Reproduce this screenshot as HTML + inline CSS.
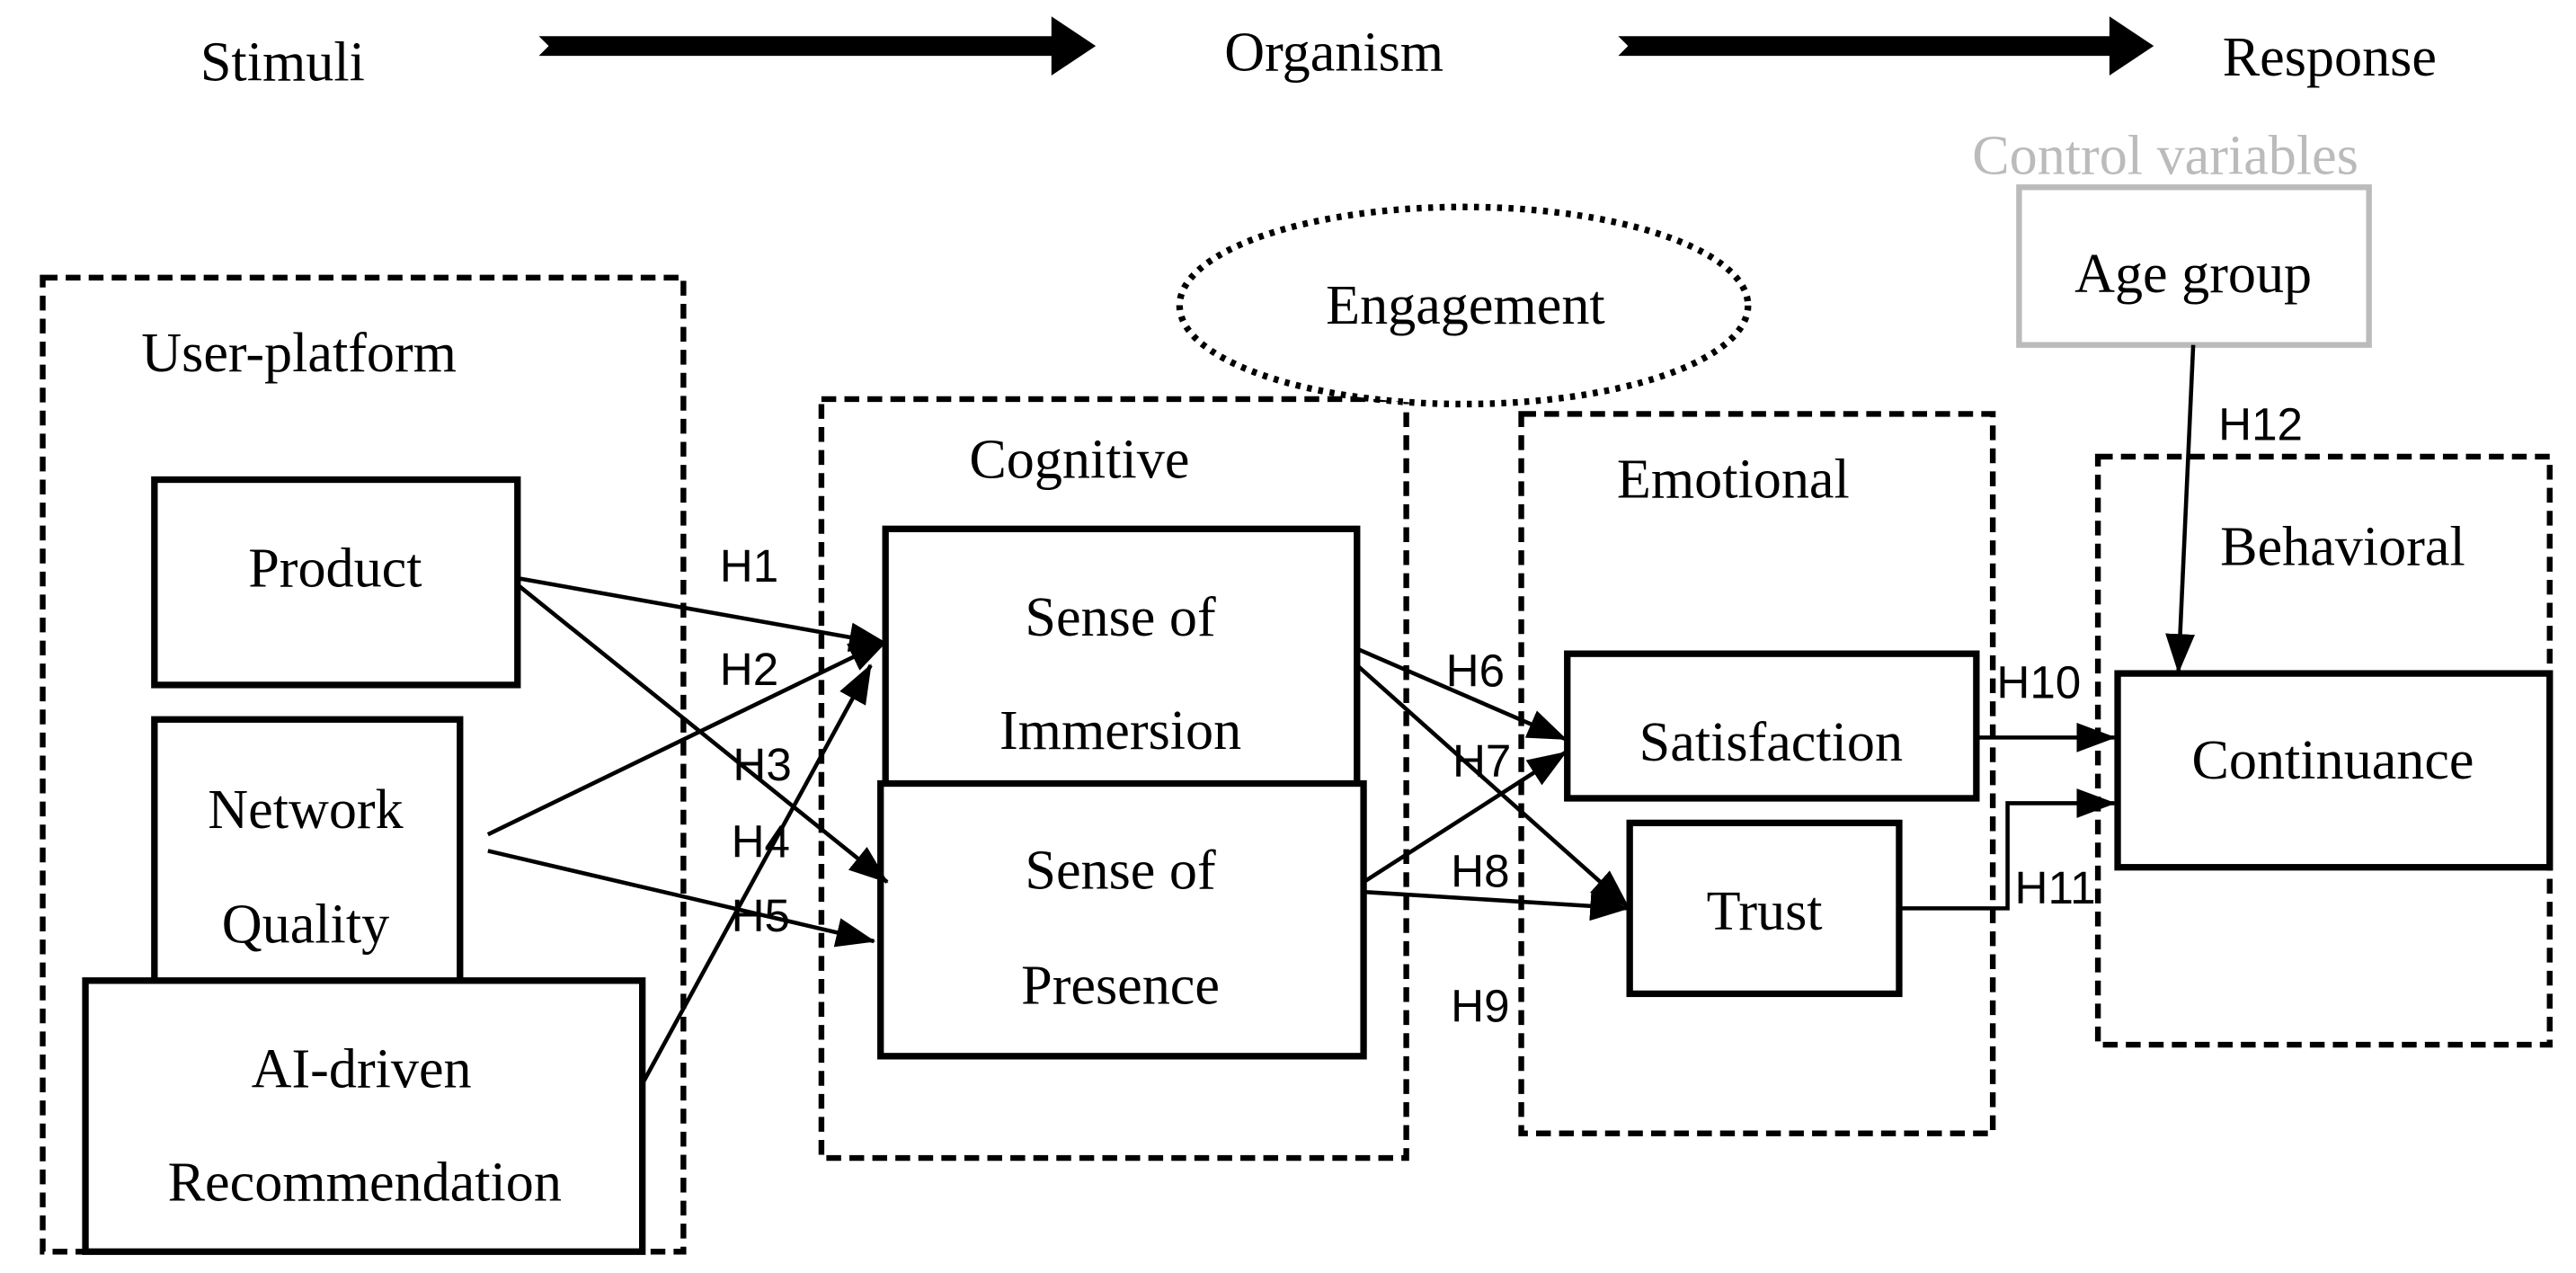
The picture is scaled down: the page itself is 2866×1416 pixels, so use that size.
<!DOCTYPE html>
<html><head><meta charset="utf-8"><style>html,body{margin:0;padding:0;background:#fff;}svg{display:block}</style></head>
<body>
<svg width="2866" height="1416" viewBox="0 0 1568 775" preserveAspectRatio="none" xmlns="http://www.w3.org/2000/svg">
<defs>
<marker id="ah" viewBox="0 0 24 18" refX="23" refY="9" markerWidth="24" markerHeight="18" orient="auto" markerUnits="userSpaceOnUse">
<path d="M0,0 L24,9 L0,18 Z" fill="#000"/></marker>
</defs>
<g font-family="Liberation Serif, serif" font-size="34" text-anchor="middle" fill="#000">
<text x="172" y="49">Stimuli</text>
<text x="812" y="43">Organism</text>
<text x="1418" y="46">Response</text>
<text x="1318" y="106" fill="#bbb">Control variables</text>
</g>
<path d="M328,22 L640,22 L640,10 L667,28 L640,46 L640,34 L328,34 L334,28 Z" fill="#000"/>
<path d="M985,22 L1284,22 L1284,10 L1311,28 L1284,46 L1284,34 L985,34 L991,28 Z" fill="#000"/>
<g fill="none" stroke="#000">
<rect x="1229" y="114" width="213" height="96" stroke="#bbb" stroke-width="3.5"/>
<g stroke-width="3.5" stroke-dasharray="9,5">
<rect x="26" y="169" width="390" height="593"/>
<rect x="500" y="243" width="356" height="462"/>
<rect x="926" y="252" width="287" height="438"/>
<rect x="1277" y="278" width="275" height="358"/>
</g>
<ellipse cx="891" cy="186" rx="173" ry="60" stroke-width="4" stroke-dasharray="3,4" fill="#fff"/>
<g stroke-width="4">
<rect x="94" y="292" width="221" height="125"/>
<rect x="94" y="438" width="186" height="162"/>
<rect x="52" y="597" width="339" height="165" fill="#fff"/>
<rect x="539" y="322" width="287" height="156"/>
<rect x="536" y="477" width="294" height="166" fill="#fff"/>
<rect x="954" y="398" width="249" height="88"/>
<rect x="992" y="501" width="164" height="104"/>
<rect x="1289" y="410" width="263" height="118"/>
</g>
<g stroke-width="2.5" marker-end="url(#ah)">
<line x1="315" y1="352" x2="540" y2="392"/>
<line x1="315" y1="356" x2="540" y2="537"/>
<line x1="297" y1="508" x2="540" y2="390"/>
<line x1="297" y1="518" x2="532" y2="573"/>
<line x1="392" y1="658" x2="530" y2="405"/>
<line x1="826" y1="395" x2="953" y2="450"/>
<line x1="826" y1="405" x2="991" y2="552"/>
<line x1="830" y1="537" x2="953" y2="458"/>
<line x1="830" y1="543" x2="991" y2="553"/>
<line x1="1203" y1="449" x2="1287" y2="449"/>
<polyline points="1156,553 1222,553 1222,489 1287,489"/>
<line x1="1335" y1="210" x2="1326" y2="409"/>
</g>
</g>
<g font-family="Liberation Serif, serif" font-size="34" text-anchor="middle" fill="#000">
<text x="892" y="197">Engagement</text>
<text x="182" y="226">User-platform</text>
<text x="204" y="357">Product</text>
<text x="186" y="504">Network</text>
<text x="186" y="574">Quality</text>
<text x="220" y="662">AI-driven</text>
<text x="222" y="731">Recommendation</text>
<text x="657" y="291">Cognitive</text>
<text x="682" y="387">Sense of</text>
<text x="682" y="456">Immersion</text>
<text x="682" y="541">Sense of</text>
<text x="682" y="611">Presence</text>
<text x="1055" y="303">Emotional</text>
<text x="1078" y="463">Satisfaction</text>
<text x="1074" y="566">Trust</text>
<text x="1426" y="344">Behavioral</text>
<text x="1420" y="474">Continuance</text>
<text x="1335" y="178">Age group</text>
</g>
<g font-family="Liberation Sans, sans-serif" font-size="28" text-anchor="middle" fill="#000">
<text x="456" y="354">H1</text>
<text x="456" y="417">H2</text>
<text x="464" y="475">H3</text>
<text x="463" y="522">H4</text>
<text x="463" y="567">H5</text>
<text x="898" y="418">H6</text>
<text x="902" y="473">H7</text>
<text x="901" y="540">H8</text>
<text x="901" y="622">H9</text>
<text x="1241" y="425">H10</text>
<text x="1251" y="550">H11</text>
<text x="1376" y="268">H12</text>
</g>
</svg>
</body></html>
